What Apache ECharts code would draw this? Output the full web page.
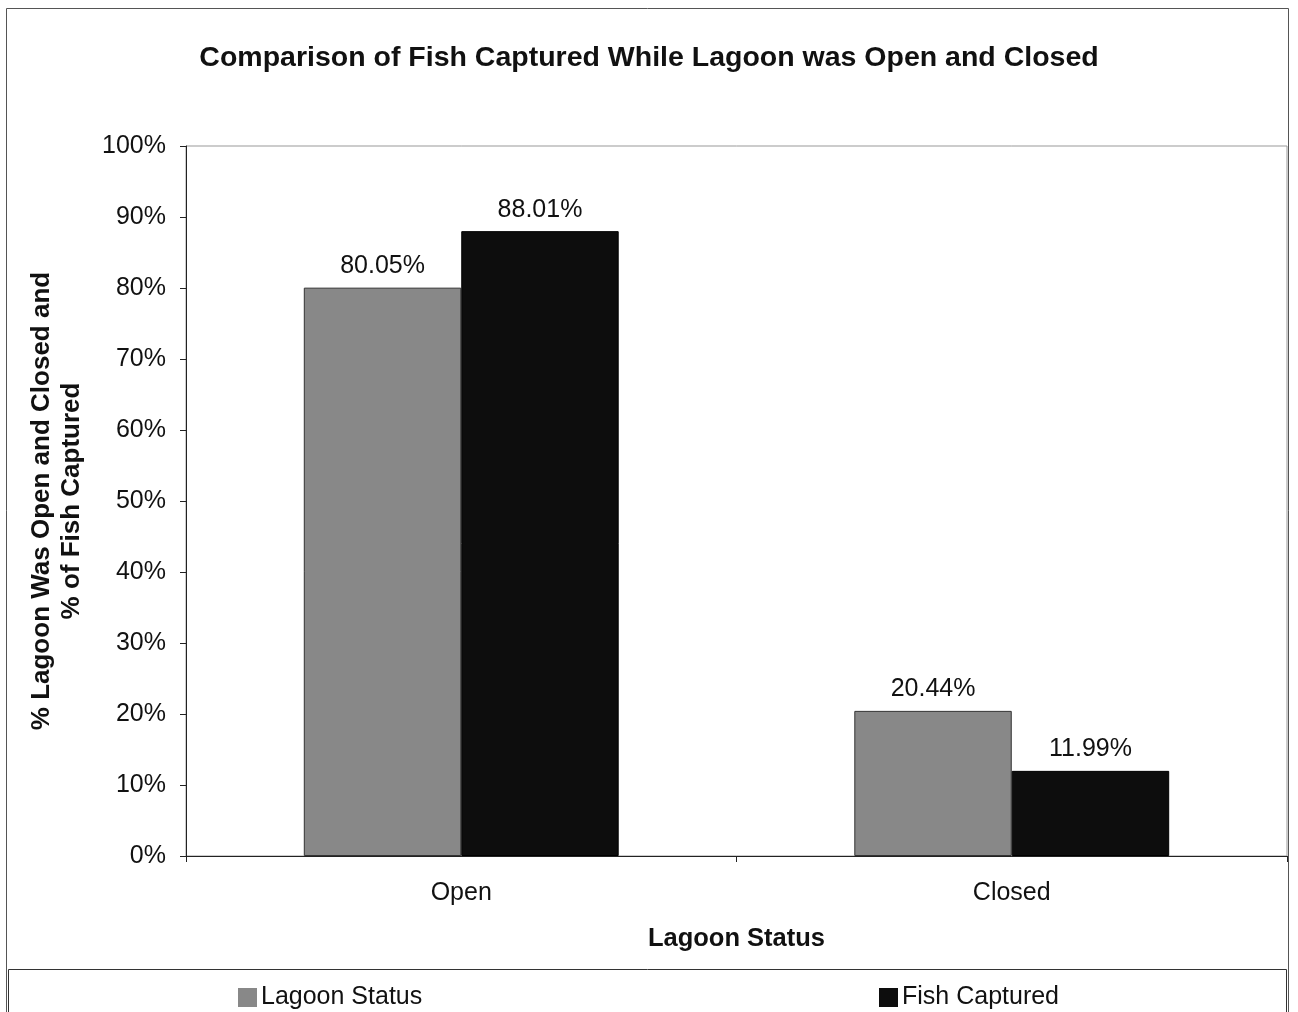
<!DOCTYPE html>
<html>
<head>
<meta charset="utf-8">
<script src="https://cdn.jsdelivr.net/npm/echarts@6/dist/echarts.min.js"></script>
<style>html,body{margin:0;padding:0;background:#fff;}#chart{width:1298px;height:1012px;}</style>
</head>
<body>
<div id="chart"></div>
<script>
var categories = ['Open', 'Closed'];
var lagoonStatus = [80.05, 20.44];
var fishCaptured = [88.01, 11.99];
var seriesNames = ['Lagoon Status', 'Fish Captured'];
var titleText = 'Comparison of Fish Captured While Lagoon was Open and Closed';
var yAxisName = '% Lagoon Was Open and Closed and\n% of Fish Captured';
var xAxisName = 'Lagoon Status';

var FONT = '"Liberation Sans", Arial, sans-serif';
var chart = echarts.init(document.getElementById('chart'), null, {renderer: 'canvas'});
var labelStyle = {
  show: true, position: 'top', distance: 9,
  fontFamily: FONT, fontSize: 25, color: '#111',
  formatter: function (p) { return p.value.toFixed(2) + '%'; }
};
chart.setOption({
  backgroundColor: '#fff',
  animation: false,
  title: {
    text: titleText, left: 'center', top: 39,
    textStyle: {fontFamily: FONT, fontSize: 28.5, fontWeight: 'bold', color: '#111'}
  },
  graphic: [
    {type: 'rect', shape: {x: 6.5, y: 8.5, width: 1282, height: 1100},
     style: {fill: 'none', stroke: '#555', lineWidth: 1}, z: -10},
    {type: 'rect', shape: {x: 8.5, y: 969.5, width: 1278, height: 100},
     style: {fill: 'none', stroke: '#333', lineWidth: 1}, z: -10}
  ],
  legend: [
    {data: [seriesNames[0]], left: 238, top: 985, padding: 0, itemWidth: 19, itemHeight: 19, icon: 'rect',
     itemGap: 5, itemStyle: {borderWidth: 0},
     textStyle: {fontFamily: FONT, fontSize: 25, color: '#111', padding: [0, 0, 0, -1]}},
    {data: [seriesNames[1]], left: 879, top: 985, padding: 0, itemWidth: 19, itemHeight: 19, icon: 'rect',
     itemGap: 5, itemStyle: {borderWidth: 0},
     textStyle: {fontFamily: FONT, fontSize: 25, color: '#111', padding: [0, 0, 0, -1]}}
  ],
  grid: {left: 186, top: 146, right: 11, bottom: 156, show: true, borderColor: '#999', borderWidth: 1, backgroundColor: '#fff'},
  xAxis: {
    type: 'category', data: categories,
    name: xAxisName, nameLocation: 'middle', nameGap: 70,
    nameTextStyle: {fontFamily: FONT, fontSize: 25.5, fontWeight: 'bold', color: '#111'},
    axisLine: {lineStyle: {color: '#222', width: 1}},
    axisTick: {show: true, length: 6, lineStyle: {color: '#222'}},
    axisLabel: {fontFamily: FONT, fontSize: 25, color: '#111', margin: 25}
  },
  yAxis: {
    type: 'value', min: 0, max: 100, interval: 10,
    name: yAxisName, nameLocation: 'middle', nameGap: 99, nameRotate: 90,
    nameTextStyle: {fontFamily: FONT, fontSize: 26, fontWeight: 'bold', color: '#111', lineHeight: 30},
    axisLine: {show: true, lineStyle: {color: '#222', width: 1}},
    axisTick: {show: true, length: 6, lineStyle: {color: '#222'}},
    splitLine: {show: false},
    axisLabel: {fontFamily: FONT, fontSize: 25, color: '#111', margin: 20,
      formatter: function (v) { return v + '%'; }}
  },
  series: [
    {name: seriesNames[0], type: 'bar', data: lagoonStatus, barWidth: '28.6%', barGap: '0%',
     itemStyle: {color: '#888888', borderColor: '#333', borderWidth: 1}, label: labelStyle},
    {name: seriesNames[1], type: 'bar', data: fishCaptured, barWidth: '28.6%',
     itemStyle: {color: '#0d0d0d', borderColor: '#000', borderWidth: 1}, label: labelStyle}
  ]
});
</script>
</body>
</html>
